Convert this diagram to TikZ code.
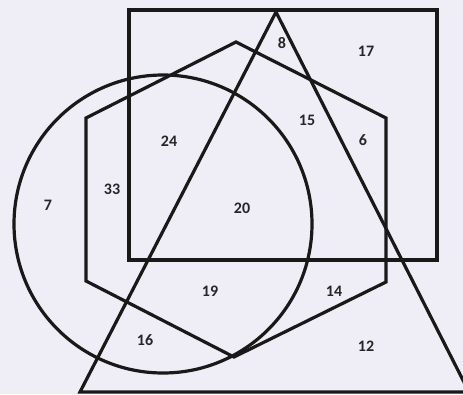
\documentclass[tikz,border=0pt]{standalone}
\usepackage{fontspec}
\setmainfont{Carlito}[BoldFont={Carlito Bold}]
\definecolor{bgc}{RGB}{239,237,246}
\begin{document}
\begin{tikzpicture}[x=1pt,y=-1pt,
  shape line/.style={line width=3.2pt,line join=miter,black!90},
  num/.style={font=\bfseries\fontsize{16}{16}\selectfont,text=black!85,inner sep=0pt}]
\fill[bgc] (0,0) rectangle (463,394);
\useasboundingbox (0,0) rectangle (463,394);
% rectangle
\draw[shape line] (129,10) rectangle (437,260);
% circle
\draw[shape line] (163,224) circle[radius=149];
% hexagon
\draw[shape line] (236,42) -- (386,118) -- (386,282) -- (234,357) -- (86,281) -- (86,118) -- cycle;
% triangle
\draw[shape line] (276,12) -- (469,392) -- (80,392) -- cycle;
% labels
\node[num] (n8) at (282,43) {8};
\node[num] (n17) at (366,51) {17};
\node[num] (n15) at (307,120) {15};
\node[num] (n6) at (363,140) {6};
\node[num] (n24) at (169,141) {24};
\node[num] (n33) at (112,189) {33};
\node[num] (n7) at (48,205) {7};
\node[num] (n20) at (242,208) {20};
\node[num] (n19) at (210,291) {19};
\node[num] (n14) at (334,291) {14};
\node[num] (n16) at (145,340) {16};
\node[num] (n12) at (366,346) {12};
\end{tikzpicture}
\end{document}
